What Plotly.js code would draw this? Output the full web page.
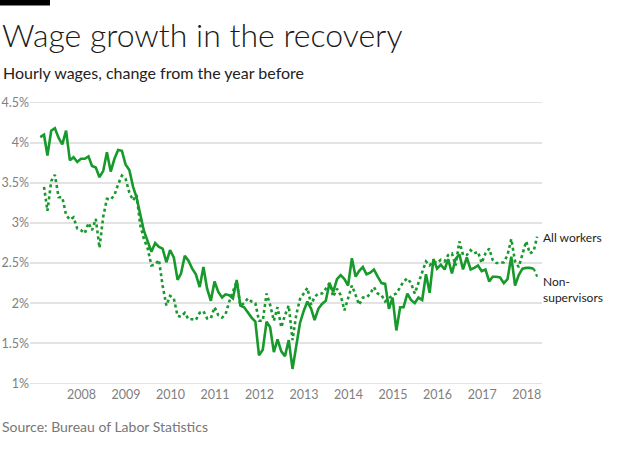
<!DOCTYPE html>
<html>
<head>
<meta charset="utf-8">
<script src="https://cdn.plot.ly/plotly-3.0.1.min.js"></script>
<style>
  html, body { margin: 0; padding: 0; background: #fff; }
  #chart { width: 620px; height: 457px; }
</style>
</head>
<body>
<div id="chart"></div>
<script>
// ---- Data (monthly year-over-year % change in hourly wages) ----
const seriesStart = { year: 2007, month: 1 };   // first month of solid series
const nonSupervisors = [
  4.07, 4.10, 3.84, 4.15, 4.18, 4.06, 3.98, 4.15, 3.78, 3.82, 3.76, 3.80,
  3.80, 3.83, 3.71, 3.69, 3.57, 3.65, 3.88, 3.64, 3.80, 3.91, 3.90, 3.73,
  3.66, 3.45, 3.32, 3.10, 2.90, 2.77, 2.64, 2.75, 2.70, 2.68, 2.51, 2.66,
  2.57, 2.29, 2.37, 2.59, 2.53, 2.43, 2.36, 2.20, 2.45, 2.18, 2.03, 2.27,
  2.14, 2.07, 2.11, 2.10, 2.06, 2.29, 1.97, 1.95, 1.88, 1.82, 1.77, 1.35,
  1.42, 1.77, 1.70, 1.39, 1.55, 1.40, 1.34, 1.54, 1.18, 1.45, 1.75, 1.90,
  2.02, 1.93, 1.79, 1.93, 1.99, 2.03, 2.25, 2.14, 2.30, 2.35, 2.30, 2.22,
  2.56, 2.33, 2.40, 2.45, 2.36, 2.38, 2.42, 2.33, 2.25, 2.24, 1.93, 2.07,
  1.66, 1.95, 1.95, 2.12, 2.04, 2.00, 2.07, 2.04, 2.36, 2.13, 2.55, 2.43,
  2.48, 2.42, 2.55, 2.37, 2.55, 2.61, 2.42, 2.57, 2.42, 2.44, 2.47, 2.40,
  2.42, 2.27, 2.33, 2.33, 2.32, 2.25, 2.30, 2.58, 2.22, 2.35, 2.43, 2.44,
  2.44, 2.43
];
const nonSupervisorsLatest = 2.33;   // final (preliminary) month, drawn dotted
const allWorkersStart = { year: 2007, month: 2 };
const allWorkers = [
  3.45, 3.15, 3.52, 3.60, 3.32, 3.32, 3.10, 3.04, 3.07, 2.93, 2.91,
  2.87, 3.00, 2.91, 3.05, 2.69, 3.08, 3.30, 3.29, 3.35, 3.48, 3.59, 3.55,
  3.38, 3.28, 3.35, 2.97, 2.80, 2.68, 2.47, 2.48, 2.54, 2.22, 1.97, 2.09,
  2.06, 1.84, 1.83, 1.88, 1.80, 1.80, 1.79, 1.88, 1.90, 1.81, 1.81, 1.95,
  1.85, 1.82, 1.86, 2.02, 2.15, 2.27, 1.97, 2.00, 2.06, 2.02, 2.00, 1.78,
  1.78, 2.12, 1.98, 1.78, 1.95, 1.70, 1.85, 1.97, 1.54, 1.85, 2.05, 2.12,
  2.19, 1.98, 2.08, 2.12, 2.12, 2.18, 2.25, 2.08, 2.18, 2.10, 1.91, 2.06,
  2.22, 2.10, 1.98, 2.07, 2.07, 2.12, 2.20, 2.12, 2.10, 2.02, 2.06, 2.10,
  2.12, 2.20, 2.27, 2.31, 2.25, 2.12, 2.25, 2.40, 2.52, 2.47, 2.52, 2.50,
  2.54, 2.52, 2.60, 2.62, 2.47, 2.77, 2.60, 2.60, 2.66, 2.62, 2.64, 2.50,
  2.62, 2.68, 2.54, 2.50, 2.50, 2.51, 2.60, 2.80, 2.52, 2.45, 2.62, 2.77,
  2.62, 2.65, 2.83
];
const yearTicks = [2008, 2009, 2010, 2011, 2012, 2013, 2014, 2015, 2016, 2017, 2018];
const yTicks = [1, 1.5, 2, 2.5, 3, 3.5, 4, 4.5];
const yTickLabels = ["1%", "1.5%", "2%", "2.5%", "3%", "3.5%", "4%", "4.5%"];
const labelAll = "All workers";
const labelNonSup = "Non-<br>supervisors";
const titleText = "Wage growth in the recovery";
const subtitleText = "Hourly wages, change from the year before";
const sourceText = "Source: Bureau of Labor Statistics";

// ---- helpers ----
function monthDates(start, n) {
  const out = [];
  for (let k = 0; k < n; k++) {
    const m0 = start.month - 1 + k;
    const y = start.year + Math.floor(m0 / 12);
    const m = (m0 % 12) + 1;
    out.push(y + "-" + String(m).padStart(2, "0") + "-28");
  }
  return out;
}
const nsDates = monthDates(seriesStart, nonSupervisors.length + 1);
const awDates = monthDates(allWorkersStart, allWorkers.length);

const W = 620, H = 457;
const M = { l: 30, r: 78, t: 101, b: 72 };
const PW = W - M.l - M.r, PH = H - M.t - M.b;
const px2x = px => (px - M.l) / PW;
const px2y = py => 1 - (py - M.t) / PH;

const green = "#17992b";
const font = "Lato, 'Open Sans', sans-serif";

const traces = [
  { x: nsDates.slice(0, nonSupervisors.length), y: nonSupervisors, type: "scatter", mode: "lines",
    line: { color: green, width: 2.6 }, hoverinfo: "skip" },
  { x: nsDates.slice(nonSupervisors.length - 1), y: [nonSupervisors[nonSupervisors.length - 1], nonSupervisorsLatest],
    type: "scatter", mode: "lines", line: { color: green, width: 2.2, dash: "dot" }, hoverinfo: "skip" },
  { x: awDates, y: allWorkers, type: "scatter", mode: "lines",
    line: { color: green, width: 2.6, dash: "dot" }, hoverinfo: "skip" }
];

const layout = {
  width: W, height: H,
  margin: M,
  paper_bgcolor: "#fff", plot_bgcolor: "#fff",
  showlegend: false,
  font: { family: font, color: "#222" },
  xaxis: {
    type: "date",
    range: ["2006-11-05", "2018-05-07"],
    tickvals: yearTicks.map(y => y + "-01-01"),
    ticktext: yearTicks.map(String),
    showgrid: false, zeroline: false, showline: false, ticks: "",
    tickfont: { size: 12.5, color: "#808080", family: font },
    fixedrange: true
  },
  yaxis: {
    range: [0.98, 4.52],
    tickmode: "array",
    tickvals: yTicks,
    ticktext: yTickLabels,
    showgrid: true, gridcolor: "#e3e3e3", gridwidth: 1.6,
    zeroline: false, showline: false, ticks: "",
    tickfont: { size: 12.5, color: "#808080", family: font },
    fixedrange: true
  },
  shapes: [
    { type: "rect", xref: "paper", yref: "paper",
      x0: px2x(0), x1: px2x(50), y0: px2y(0), y1: px2y(5.5),
      fillcolor: "#000", line: { width: 0 } }
  ],
  annotations: [
    { text: titleText, xref: "paper", yref: "paper", x: px2x(0), y: px2y(34),
      xanchor: "left", yanchor: "middle", showarrow: false,
      font: { size: 32, family: "Lato", weight: 300, color: "#1a1a1a" } },
    { text: subtitleText, xref: "paper", yref: "paper", x: px2x(1), y: px2y(73),
      xanchor: "left", yanchor: "middle", showarrow: false,
      font: { size: 16, family: font, color: "#222" } },
    { text: sourceText, xref: "paper", yref: "paper", x: px2x(0), y: px2y(426),
      xanchor: "left", yanchor: "middle", showarrow: false,
      font: { size: 14, family: font, color: "#777" } },
    { text: labelAll, xref: "paper", yref: "paper", x: px2x(541), y: px2y(237),
      xanchor: "left", yanchor: "middle", showarrow: false, align: "left",
      font: { size: 12, family: font, color: "#222" } },
    { text: labelNonSup, xref: "paper", yref: "paper", x: px2x(541), y: px2y(289),
      xanchor: "left", yanchor: "middle", showarrow: false, align: "left",
      font: { size: 12, family: font, color: "#222" } }
  ]
};

Plotly.newPlot("chart", traces, layout, { displayModeBar: false, staticPlot: true });
</script>
</body>
</html>
